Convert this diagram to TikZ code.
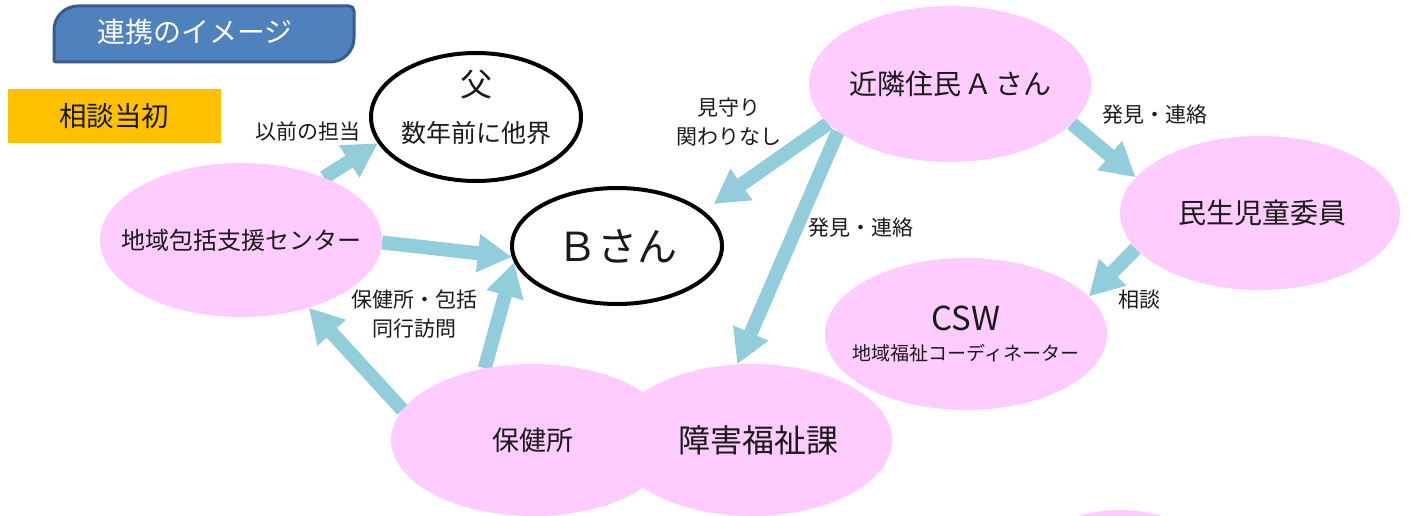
\documentclass[tikz,border=0pt]{standalone}
\usepackage{fontspec}
\setmainfont{Noto Sans CJK JP}
\usetikzlibrary{arrows.meta,shapes.geometric,calc}
\definecolor{pinkfill}{HTML}{FFCCFF}
\definecolor{arrowblue}{HTML}{92CDDC}
\definecolor{hdrfill}{HTML}{4F81BD}
\definecolor{hdrline}{HTML}{385D8A}
\definecolor{orangebox}{HTML}{FFC000}
\definecolor{txt}{HTML}{1A1A1A}
\pgfdeclarelayer{bglayer}
\pgfdeclarelayer{arrowlayer}
\pgfsetlayers{bglayer,arrowlayer,main}
\begin{document}
\begin{tikzpicture}[x=1pt,y=-1pt,
  pinkell/.style={ellipse, fill=pinkfill, inner sep=0pt},
  blackell/.style={ellipse, draw=black, line width=4pt, fill=white, inner sep=0pt},
  conn/.style={draw=arrowblue, line width=14pt, -{Triangle[width=36pt,length=34pt]}},
  lbl/.style={text=txt, font=\fontsize{21}{29}\selectfont, align=center, inner sep=0pt},
  tx/.style={text=txt, inner sep=0pt, font=\fontsize{#1}{#1}\selectfont},
]
\begin{pgfonlayer}{bglayer}
\fill[white] (0,0) rectangle (1413,516);
\end{pgfonlayer}
\useasboundingbox (0,0) rectangle (1413,516);
\clip (0,0) rectangle (1413,516);

% header tab
\path[draw=hdrline, fill=hdrfill, line width=3pt] (54,62) [rounded corners=24pt] -- (54,6) [rounded corners=5pt] -- (354,6) [rounded corners=24pt] -- (354,62) [rounded corners=2pt] -- cycle;
\node[tx=28, text=white] (hdr) at (195,32) {連携のイメージ};

% orange box
\node[fill=orangebox, minimum width=213pt, minimum height=54pt, inner sep=0pt] (start) at (114.5,116) {};
\node[tx=27.5] (starttxt) at (114,116) {相談当初};

% ellipses
\node[blackell, minimum width=210pt, minimum height=128pt] (fu) at (476,117) {};
\node[tx=32] (futxt) at (476,85) {父};
\node[tx=25] (futxt2) at (476,133) {数年前に他界};

\node[blackell, minimum width=210pt, minimum height=116pt] (B) at (617,246) {};
\node[tx=40] (Btxt) at (617,246) {Ｂさん};

\node[pinkell, minimum width=282pt, minimum height=154pt] (chiiki) at (241,240) {};
\node[tx=24] (chiikitxt) at (241,240) {地域包括支援センター};
\node[pinkell, minimum width=282pt, minimum height=156pt] (kinrin) at (950,84) {};
\node[tx=28] (kinrintxt) at (950,84) {近隣住民\hspace{3pt}Ａ\hspace{3pt}さん};
\node[pinkell, minimum width=280pt, minimum height=154pt] (minsei) at (1260,213) {};
\node[tx=28] (minseitxt) at (1262,213) {民生児童委員};
\node[pinkell, minimum width=282pt, minimum height=152pt] (csw) at (966,334) {};
\node[tx=33] (cswtxt) at (966,318) {CSW};
\node[tx=19] (cswtxt2) at (966,353) {地域福祉コーディネーター};
\node[pinkell, minimum width=284pt, minimum height=152pt] (hoken) at (533,440) {};
\node[tx=27] (hokentxt) at (533,440) {保健所};
\node[pinkell, minimum width=280pt, minimum height=152pt] (shogai) at (752,440) {};
\node[tx=32] (shogaitxt) at (758,440) {障害福祉課};
\node[pinkell, minimum width=220pt, minimum height=160pt] (extra) at (1120,590) {};

% connectors
\begin{pgfonlayer}{arrowlayer}
\draw[conn] (chiiki.37) -- (fu.195);
\draw[conn] (chiiki.-1) -- (B.186);
\draw[conn] (hoken.124) -- (B.189);
\draw[conn] (hoken.167) -- (chiiki.-45);
\draw[conn, shorten >=12pt] (kinrin.198) -- (B.22);
\draw[conn] (kinrin.203) -- (shogai.101);
\draw[conn] (kinrin.-18) -- (minsei.164);
\draw[conn] (minsei.196) -- (csw.17);
\end{pgfonlayer}

% labels
\node[lbl] (l1) at (308,131) {以前の担当};
\node[lbl] (l2) at (729,122.5) {見守り\\関わりなし};
\node[lbl] (l3) at (861,228) {発見・連絡};
\node[lbl] (l4) at (1155,115) {発見・連絡};
\node[lbl] (l5) at (1139,300) {相談};
\node[lbl] (l6) at (414,313.5) {保健所・包括\\同行訪問};
\end{tikzpicture}
\end{document}
